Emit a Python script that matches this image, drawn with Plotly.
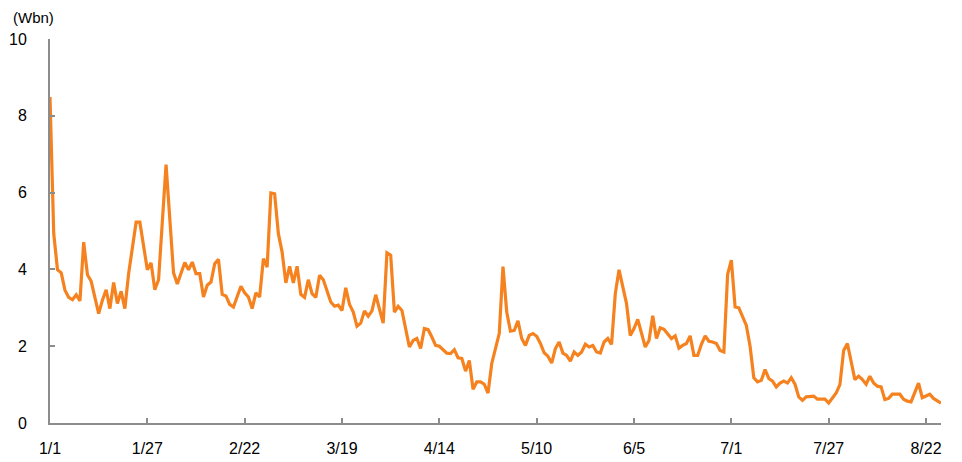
import datetime as dt
import plotly.graph_objects as go

# Day offsets from 2024-01-01 and values (Wbn)
day_offsets = [0, 1, 2, 3, 4, 5, 6, 7, 8, 9, 10, 11, 13, 14, 15, 16, 17, 18, 19, 20, 21, 23, 24,
               26, 27, 28, 29, 31, 33, 34, 36, 37, 38, 39, 40, 41, 42, 43, 44, 45, 46, 47, 48, 49,
               51, 52, 53, 54, 55, 56, 57, 58, 59, 60, 61, 62, 63, 64, 65, 66, 67, 68, 69, 70, 71,
               72, 73, 75, 76, 77, 78, 79, 80, 81, 82, 83, 84, 85, 86, 87, 89, 90, 91, 92, 93, 94,
               96, 97, 98, 99, 100, 101, 102, 103, 104, 106, 107, 108, 109, 110, 111, 112, 113,
               114, 115, 116, 117, 118, 120, 121, 122, 123, 124, 125, 126, 127, 128, 129, 130,
               131, 132, 133, 134, 135, 136, 137, 138, 139, 140, 141, 142, 143, 144, 145, 146,
               147, 148, 149, 150, 151, 152, 154, 155, 156, 157, 159, 160, 161, 162, 163, 164,
               166, 167, 168, 169, 170, 171, 172, 173, 174, 175, 176, 177, 178, 179, 180, 181,
               182, 183, 184, 186, 187, 188, 189, 190, 191, 192, 193, 194, 195, 196, 197, 198,
               199, 200, 201, 202, 203, 204, 205, 206, 207, 208, 209, 210, 211, 212, 213, 215,
               216, 217, 218, 219, 220, 221, 222, 223, 224, 225, 226, 227, 228, 229, 230, 232,
               233, 234, 235, 236, 237, 238]

values = [8.49, 4.93, 3.99, 3.91, 3.46, 3.27, 3.21, 3.34, 3.18, 4.71, 3.86, 3.69, 2.85, 3.20, 3.47,
          2.98, 3.66, 3.11, 3.43, 2.98, 3.89, 5.23, 5.23,
          3.99, 4.17, 3.47, 3.73, 6.73, 3.91, 3.62, 4.18, 3.99, 4.19, 3.89, 3.89, 3.28, 3.59, 3.67,
          4.15, 4.26, 3.35, 3.31, 3.09, 3.02,
          3.56, 3.39, 3.28, 2.98, 3.39, 3.28, 4.28, 4.06, 5.99, 5.97, 4.93, 4.45, 3.65, 4.08, 3.65,
          4.08, 3.35, 3.27, 3.73, 3.37, 3.27,
          3.85, 3.73, 3.15, 3.04, 3.07, 2.93, 3.52, 3.09, 2.89, 2.52, 2.60, 2.92, 2.78, 2.92, 3.34,
          2.60, 4.43, 4.37, 2.89, 3.04, 2.93,
          1.98, 2.15, 2.20, 1.94, 2.46, 2.43, 2.24, 2.02, 2.00, 1.82, 1.81, 1.91, 1.70, 1.68, 1.35,
          1.63, 0.88,
          1.07, 1.07, 1.01, 0.78, 1.55, 2.33, 4.07, 2.89, 2.39, 2.41, 2.66, 2.20, 2.02, 2.28, 2.33,
          2.26,
          2.07, 1.83, 1.74, 1.56, 1.94, 2.11, 1.82, 1.76, 1.61, 1.85, 1.76, 1.85, 2.05, 1.98, 2.02,
          1.85,
          1.82, 2.11, 2.20, 2.05, 3.37, 3.99, 3.11, 2.28, 2.46, 2.70, 1.98, 2.15, 2.79, 2.20, 2.48,
          2.44,
          2.20, 2.27, 1.95, 2.02, 2.07, 2.27, 1.76, 1.76, 2.05, 2.27, 2.13, 2.11, 2.07, 1.89, 1.85,
          3.87,
          4.24, 3.02, 3.00, 2.54, 2.00, 1.18, 1.07, 1.11, 1.39, 1.16, 1.09, 0.94, 1.04, 1.09, 1.04,
          1.18,
          1.01, 0.68, 0.59, 0.68, 0.68, 0.70, 0.62, 0.62, 0.62, 0.52, 0.66, 0.78, 1.00, 1.89, 2.07,
          1.13,
          1.22, 1.13, 1.01, 1.22, 1.04, 0.96, 0.94, 0.61, 0.64, 0.75, 0.75, 0.75, 0.62, 0.57, 0.55,
          1.04,
          0.66, 0.70, 0.75, 0.64, 0.57, 0.52]

start_date = dt.date(2024, 1, 1)
end_date = dt.date(2024, 8, 26)
tick_dates = ["2024-01-01", "2024-01-27", "2024-02-22", "2024-03-19", "2024-04-14",
              "2024-05-10", "2024-06-05", "2024-07-01", "2024-07-27", "2024-08-22"]
tick_labels = ["1/1", "1/27", "2/22", "3/19", "4/14", "5/10", "6/5", "7/1", "7/27", "8/22"]
y_ticks = [0, 2, 4, 6, 8, 10]

dates = [start_date + dt.timedelta(days=d) for d in day_offsets]

FONT = "Liberation Sans, Arial, sans-serif"
AXIS_COLOR = "#8c8c8c"
FS = 16

fig = go.Figure()
fig.add_trace(go.Scatter(
    x=dates, y=values, mode="lines",
    line=dict(color="#F5821F", width=3.2),
    hoverinfo="skip", showlegend=False,
))

fig.update_layout(
    width=962, height=462,
    margin=dict(l=50, r=21, t=39, b=39, autoexpand=False),
    paper_bgcolor="white", plot_bgcolor="white",
    font=dict(family=FONT, size=FS, color="#000000"),
    annotations=[dict(
        text="(Wbn)", xref="paper", yref="paper",
        x=-0.019, y=1.057, xanchor="center", yanchor="middle",
        showarrow=False, font=dict(family=FONT, size=15, color="#000000"),
    )],
)

fig.update_xaxes(
    type="date", automargin=False,
    range=[start_date.isoformat(), end_date.isoformat()],
    tickvals=tick_dates, ticktext=tick_labels,
    ticks="inside", ticklen=5, tickcolor=AXIS_COLOR, tickwidth=1.5,
    showline=True, linecolor=AXIS_COLOR, linewidth=2,
    showgrid=False, zeroline=False,
    tickfont=dict(family=FONT, size=FS, color="#000000"),
    ticklabelstandoff=10,
)
fig.update_yaxes(
    range=[0, 10], automargin=False,
    tickvals=y_ticks,
    ticks="inside", ticklen=5, tickcolor=AXIS_COLOR, tickwidth=1.5,
    showline=True, linecolor=AXIS_COLOR, linewidth=2,
    showgrid=False, zeroline=False,
    tickfont=dict(family=FONT, size=FS, color="#000000"),
    ticklabelstandoff=18,
)

fig.write_html("out.html", config={"displayModeBar": False},
               post_script="document.body.style.margin='0';")
